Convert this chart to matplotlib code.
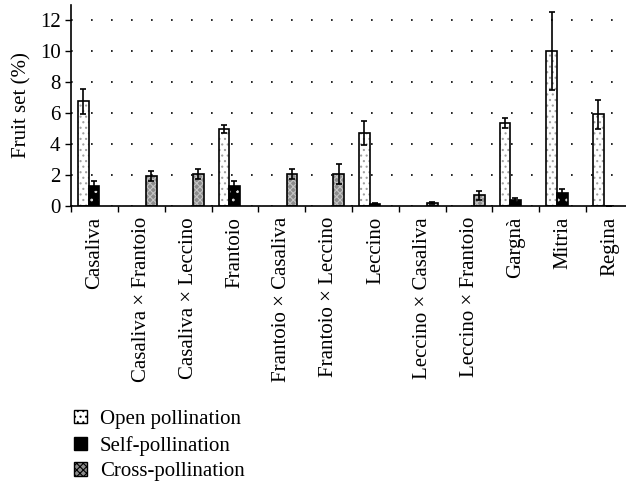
import matplotlib
matplotlib.use("Agg")
import matplotlib.pyplot as plt
import numpy as np
from matplotlib.patches import Patch

plt.rcParams['font.family'] = ['Liberation Serif', 'DejaVu Serif']
plt.rcParams['hatch.linewidth'] = 0.8

categories = ["Casaliva", "Casaliva × Frantoio", "Casaliva × Leccino", "Frantoio",
              "Frantoio × Casaliva", "Frantoio × Leccino", "Leccino",
              "Leccino × Casaliva", "Leccino × Frantoio", "Gargnà", "Mitria", "Regina"]
open_vals = [6.76, np.nan, np.nan, 4.99, np.nan, np.nan, 4.73, np.nan, np.nan, 5.38, 10.04, 5.94]
open_err = [0.80, np.nan, np.nan, 0.27, np.nan, np.nan, 0.76, np.nan, np.nan, 0.32, 2.52, 0.93]
self_vals = [1.31, np.nan, np.nan, 1.31, np.nan, np.nan, 0.15, np.nan, np.nan, 0.37, 0.84, 0.03]
self_err = [0.30, np.nan, np.nan, 0.30, np.nan, np.nan, 0.04, np.nan, np.nan, 0.13, 0.24, 0.0]
cross_vals = [np.nan, 1.92, 2.07, np.nan, 2.07, 2.09, np.nan, 0.20, 0.69, np.nan, np.nan, np.nan]
cross_err = [np.nan, 0.32, 0.30, np.nan, 0.30, 0.65, np.nan, 0.06, 0.30, np.nan, np.nan, np.nan]
series_names = ["Open pollination", "Self-pollination", "Cross-pollination"]

FS = 15

fig = plt.figure(figsize=(6.26, 4.86), dpi=100)
ax = fig.add_axes([71/626, 1 - 206/486, (633 - 71)/626, (206 - 5)/486])

x = np.arange(len(categories)) + 0.49
w = 0.227
styles = [
    dict(face="white", hatch="...", hcol="#a0a0a0"),
    dict(face="black", hatch="..", hcol="#dddddd"),
    dict(face="#8c8c8c", hatch="xxxxx", hcol="#c4c4c4"),
]
data = [(open_vals, open_err), (self_vals, self_err), (cross_vals, cross_err)]
for k, ((vals, errs), st) in enumerate(zip(data, styles)):
    pos = x + (k - 1) * w
    ax.bar(pos, vals, w, color=st["face"], hatch=st["hatch"], edgecolor=st["hcol"],
           linewidth=0, zorder=2)
    ax.bar(pos, vals, w, fill=False, edgecolor="black", linewidth=1.2, zorder=3)
    ax.errorbar(pos, vals, yerr=errs, fmt="none", ecolor="black", elinewidth=1.2,
                capsize=2.5, capthick=1.2, zorder=4)

ax.set_ylim(0, 13)
ax.set_xlim(0, len(categories))
ax.set_yticks(range(0, 13, 2))
ax.set_xticks(np.arange(len(categories) + 1))
ax.set_xticklabels([])
ax.set_xticks(np.arange(len(categories)) + 0.5, minor=True)
ax.set_xticklabels(categories, minor=True, rotation=90, fontsize=FS)
ax.tick_params(axis="x", which="minor", length=0, pad=8)
ax.tick_params(axis="x", which="major", length=4, width=1, direction="out")
ax.tick_params(axis="y", labelsize=FS, length=4, width=1, direction="out")
ax.set_ylabel("Fruit set (%)", fontsize=FS, labelpad=6)
for s in ["top", "right"]:
    ax.spines[s].set_visible(False)
for s in ["left", "bottom"]:
    ax.spines[s].set_linewidth(1.2)
ax.yaxis.grid(True, linestyle=(0, (1, 11)), color="black", linewidth=1.2, zorder=0)
ax.set_axisbelow(True)

handles = []
for name, st in zip(series_names, styles):
    handles.append(Patch(facecolor=st["face"], edgecolor="black", hatch=st["hatch"],
                         linewidth=1, label=name))
fig.legend(handles=handles, loc="upper left", bbox_to_anchor=(74/626, 1 - 410/486),
           frameon=False, fontsize=FS, handlelength=0.6, handleheight=0.6,
           handletextpad=0.65, labelspacing=0.32, borderaxespad=0, borderpad=0)

fig.savefig("out.png", dpi=100)
